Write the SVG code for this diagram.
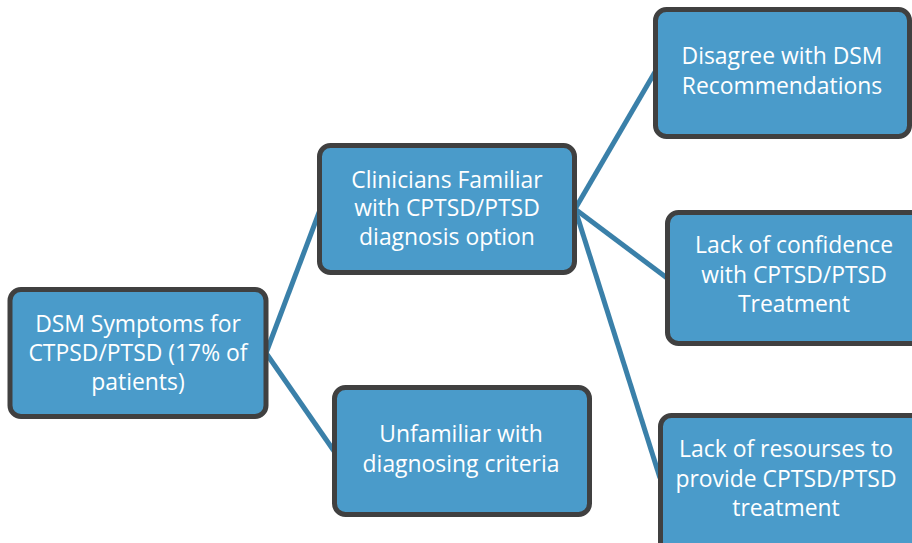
<svg xmlns="http://www.w3.org/2000/svg" width="912" height="543" viewBox="0 0 912 543">
  <style>
    .box { fill: #4a9bca; stroke: #404040; stroke-width: 5; }
    .lbl { fill: #ffffff; font-family: "Open Sans", "Noto Sans", "Liberation Sans", sans-serif; font-size: 22.9px; text-anchor: middle; }
    .link { stroke: #3a80a9; stroke-width: 5; fill: none; stroke-linecap: butt; }
  </style>
  <rect width="912" height="543" fill="#ffffff"/>

  <!-- connectors -->
  <g id="connectors">
    <line class="link" x1="266" y1="353" x2="320" y2="210"/>
    <line class="link" x1="266" y1="353" x2="334" y2="451"/>
    <line class="link" x1="575" y1="209" x2="655" y2="72"/>
    <line class="link" x1="575" y1="209" x2="667" y2="278"/>
    <line class="link" x1="575" y1="209" x2="660" y2="478"/>
  </g>

  <g id="node-dsm">
    <rect class="box" x="10" y="289.5" width="256" height="127" rx="11"/>
    <text class="lbl" x="138" y="332">DSM Symptoms for</text>
    <text class="lbl" x="138" y="361">CTPSD/PTSD (17% of</text>
    <text class="lbl" x="138" y="390">patients)</text>
  </g>

  <g id="node-familiar">
    <rect class="box" x="319.5" y="145.5" width="255" height="127" rx="11"/>
    <text class="lbl" x="447" y="188">Clinicians Familiar</text>
    <text class="lbl" x="447" y="216">with CPTSD/PTSD</text>
    <text class="lbl" x="447" y="245">diagnosis option</text>
  </g>

  <g id="node-unfamiliar">
    <rect class="box" x="334.5" y="387.5" width="255" height="127" rx="11"/>
    <text class="lbl" x="461" y="442">Unfamiliar with</text>
    <text class="lbl" x="461" y="472">diagnosing criteria</text>
  </g>

  <g id="node-disagree">
    <rect class="box" x="655.5" y="9.5" width="254" height="127" rx="11"/>
    <text class="lbl" x="782" y="64">Disagree with DSM</text>
    <text class="lbl" x="782" y="94">Recommendations</text>
  </g>

  <g id="node-confidence">
    <rect class="box" x="667.5" y="212.5" width="260" height="131" rx="11"/>
    <text class="lbl" x="794" y="253">Lack of confidence</text>
    <text class="lbl" x="794" y="283">with CPTSD/PTSD</text>
    <text class="lbl" x="794" y="312">Treatment</text>
  </g>

  <g id="node-resources">
    <rect class="box" x="660.5" y="415.5" width="267" height="140" rx="11"/>
    <text class="lbl" x="786" y="457">Lack of resourses to</text>
    <text class="lbl" x="786" y="487">provide CPTSD/PTSD</text>
    <text class="lbl" x="786" y="516">treatment</text>
  </g>
</svg>
